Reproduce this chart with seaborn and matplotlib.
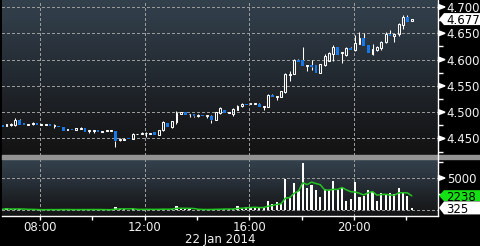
import numpy as np
import pandas as pd
import matplotlib
matplotlib.use("Agg")
import matplotlib.pyplot as plt
import seaborn as sns
from matplotlib.patches import Polygon, Rectangle
from matplotlib.lines import Line2D
from matplotlib.colors import LinearSegmentedColormap

# ---------------- data ----------------
start_hour = 6.55          # first 10-minute bar (hours of 22 Jan 2014)
bar_step_hours = 1 / 6

opens = [4.475,4.474,4.475,4.475,4.486,4.479,4.477,4.477,4.479,4.476,
         4.476,4.477,4.473,4.474,4.471,4.467,4.468,4.467,4.468,4.470,
         4.465,4.465,4.466,4.463,4.464,4.465,4.464,4.447,4.448,4.451,
         4.449,4.458,4.459,4.460,4.459,4.463,4.456,4.466,4.480,4.471,
         4.482,4.497,4.500,4.496,4.496,4.494,4.495,4.492,4.493,4.486,
         4.498,4.505,4.499,4.497,4.505,
         4.511,4.516,4.516,4.517,4.516,4.511,4.510,4.533,4.529,4.529,
         4.539,4.570,4.573,4.600,4.600,4.589,4.590,4.589,4.575,4.590,
         4.598,4.610,4.623,4.613,4.608,4.622,4.618,4.630,4.642,4.628,
         4.611,4.618,4.622,4.633,4.648,4.645,4.648,4.665,4.681,4.674]
highs = [4.476,4.478,4.480,4.488,4.487,4.479,4.4775,4.481,4.479,4.476,
         4.477,4.477,4.477,4.474,4.471,4.468,4.468,4.469,4.471,4.470,
         4.466,4.466,4.466,4.465,4.465,4.4655,4.464,4.451,4.451,4.451,
         4.460,4.459,4.463,4.463,4.460,4.463,4.466,4.483,4.480,4.484,
         4.502,4.501,4.501,4.497,4.496,4.496,4.495,4.495,4.494,4.500,
         4.509,4.505,4.500,4.508,4.514,
         4.517,4.516,4.517,4.517,4.517,4.512,4.534,4.534,4.531,4.541,
         4.574,4.578,4.602,4.601,4.624,4.590,4.599,4.590,4.592,4.610,
         4.614,4.627,4.624,4.614,4.623,4.623,4.647,4.652,4.650,4.628,
         4.630,4.625,4.636,4.652,4.656,4.648,4.670,4.685,4.685,4.678]
lows = [4.472,4.474,4.474,4.474,4.475,4.476,4.477,4.476,4.476,4.476,
        4.476,4.473,4.470,4.471,4.465,4.466,4.466,4.467,4.468,4.463,
        4.461,4.460,4.463,4.463,4.464,4.465,4.434,4.445,4.447,4.449,
        4.449,4.458,4.458,4.452,4.459,4.456,4.456,4.464,4.472,4.469,
        4.478,4.496,4.495,4.490,4.491,4.491,4.492,4.488,4.480,4.486,
        4.497,4.499,4.499,4.493,4.504,
        4.510,4.513,4.516,4.516,4.509,4.505,4.509,4.528,4.524,4.528,
        4.536,4.559,4.572,4.595,4.587,4.578,4.580,4.575,4.575,4.588,
        4.597,4.598,4.609,4.593,4.606,4.619,4.617,4.629,4.626,4.612,
        4.609,4.617,4.618,4.632,4.644,4.633,4.645,4.658,4.672,4.673]
closes = [4.472,4.477,4.478,4.486,4.476,4.476,4.4775,4.479,4.476,4.476,
          4.477,4.473,4.475,4.471,4.465,4.468,4.466,4.469,4.470,4.463,
          4.466,4.466,4.463,4.465,4.465,4.4655,4.446,4.449,4.449,4.449,
          4.459,4.459,4.460,4.461,4.460,4.456,4.466,4.482,4.472,4.483,
          4.499,4.500,4.495,4.497,4.492,4.494,4.492,4.494,4.485,4.500,
          4.508,4.499,4.500,4.507,4.512,
          4.516,4.513,4.517,4.517,4.509,4.512,4.532,4.528,4.531,4.540,
          4.572,4.572,4.600,4.595,4.588,4.590,4.586,4.575,4.591,4.607,
          4.613,4.623,4.609,4.614,4.622,4.619,4.632,4.642,4.626,4.612,
          4.620,4.624,4.634,4.648,4.644,4.648,4.667,4.681,4.672,4.677]
volumes = [120, 260, 90, 180, 150, 60, 40, 80, 50, 40,
           60, 90, 70, 50, 110, 60, 40, 50, 70, 120,
           80, 60, 50, 40, 60, 30, 520, 180, 90, 60,
           150, 80, 100, 160, 60, 90, 140, 200, 120, 180,
           650, 240, 130, 90, 60, 80, 70, 90, 140, 160,
           150, 180, 120, 140,
           625, 365, 415, 365, 365, 365, 415, 1460, 885, 1200,
           885, 4840, 1930, 4220, 2970, 7340, 3385, 3900, 3125, 2030,
           3280, 3180, 4530, 3070, 3490, 1460, 1720, 4320, 2030, 2240,
           3125, 2760, 1400, 2600, 2340, 2660, 2450, 3385, 2660, 2240, 325]
ma_window = 5

price_ticks = [4.450, 4.500, 4.550, 4.600, 4.650, 4.700]
price_minor = [4.425, 4.475, 4.525, 4.575, 4.625, 4.675]
vol_ticks = [5000]
vol_tick_labels = ["5000"]
vol_minor = [2500, 7500]
vol_grid = [0, 5000]
time_ticks = [8, 12, 16, 20]
time_labels = ["08:00", "12:00", "16:00", "20:00"]
time_minor = [10, 14, 18, 22]
date_label = "22 Jan 2014"
last_price, last_price_label = 4.677, "4.677"
ma_last, ma_label = 2238, "2238"
vol_last, vol_last_label = 325, "325"

# ---------------- style ----------------
sns.set_theme(style="dark")
plt.rcParams["font.family"] = ["DejaVu Sans"]
TXT = "#f2f2f2"
BLUE = "#1778e6"
GREEN = "#22c422"
GRID = "#9a9a9a"

W, H = 481, 246
def fx(px): return px / W
def fy(py): return 1 - py / H

fig = plt.figure(figsize=(W / 100, H / 100), dpi=100, facecolor="black")
rect_p = [fx(2), fy(155), fx(438) - fx(2), 155 / H]
rect_v = [fx(2), fy(216), fx(438) - fx(2), (216 - 159) / H]

def background(rect, colors):
    bg = fig.add_axes(rect, zorder=-5)
    cmap = LinearSegmentedColormap.from_list("g", colors)
    grad = np.linspace(0, 1, 256).reshape(-1, 1)
    bg.imshow(grad, cmap=cmap, aspect="auto", extent=(0, 1, 0, 1),
              vmin=0, vmax=1, interpolation="bilinear")
    bg.set_axis_off()

background(rect_p, ["#33414d", "#2b353f", "#222930", "#1a1c1f", "#131313"])
background(rect_v, ["#34424e", "#2a333c", "#1e2227", "#151515"])

axp = fig.add_axes(rect_p, zorder=1)
axv = fig.add_axes(rect_v, zorder=1)
for ax in (axp, axv):
    ax.set_facecolor("none")

XMIN, XMAX = 6.544, 23.22
PTOP, PBOT = 4.7133, 4.4186
VTOP, VBOT = 7969, -937

t = start_hour + np.arange(len(opens)) * bar_step_hours
o = np.array(opens); h = np.array(highs); l = np.array(lows); c = np.array(closes)

# grid
gkw = dict(color=GRID, lw=0.75, ls=(0, (2.0, 2.0)), zorder=1, antialiased=False)
for ax in (axp, axv):
    for x in time_ticks:
        ax.axvline(x, **gkw)
for v in price_ticks:
    axp.axhline(v, **gkw)
for v in vol_grid:
    axv.axhline(v, **gkw)

# candles
minh = 0.0017
lo_b = np.minimum(o, c); hi_b = np.maximum(o, c)
small = (hi_b - lo_b) < minh
mid = (hi_b + lo_b) / 2
lo_b = np.where(small, mid - minh / 2, lo_b)
hi_b = np.where(small, mid + minh / 2, hi_b)
axp.vlines(t, hi_b, np.maximum(h, hi_b), color="white", lw=0.75, zorder=2)
axp.vlines(t, np.minimum(l, lo_b), lo_b, color="white", lw=0.75, zorder=2)
down = c < o
up = ~down
axp.bar(t[down], (hi_b - lo_b)[down], bottom=lo_b[down], width=0.105,
        color=BLUE, linewidth=0, zorder=3)
axp.bar(t[up], (hi_b - lo_b)[up], bottom=lo_b[up], width=0.072,
        facecolor="none", edgecolor="white", linewidth=0.75, zorder=3)

# volume
df = pd.DataFrame({"t": t, "vol": volumes})
df["ma"] = df["vol"].rolling(ma_window, min_periods=1).mean()
sns.barplot(data=df, x="t", y="vol", native_scale=True, color="white",
            saturation=1, width=0.5, errorbar=None, ax=axv, linewidth=0, zorder=3)
sns.lineplot(data=df, x="t", y="ma", ax=axv, color=GREEN, lw=1.1, zorder=4)

for ax in (axp, axv):
    ax.set_xlim(XMIN, XMAX)
    ax.set_xlabel(""); ax.set_ylabel("")
    for s in ax.spines.values():
        s.set_visible(False)
    ax.yaxis.tick_right()
axp.set_ylim(PBOT, PTOP)
axv.set_ylim(VBOT, VTOP)

axp.set_xticks(time_ticks)
axp.tick_params(axis="x", length=0, labelbottom=False)
axp.set_yticks(price_ticks, labels=[f"{v:.3f}" for v in price_ticks])
axp.set_yticks(price_minor, minor=True)
axp.tick_params(axis="y", which="major", length=0, pad=6.3, labelsize=8.5,
                labelcolor=TXT, right=True, left=False)
axp.tick_params(axis="y", which="minor", length=3.5, width=1, color="white",
                direction="out", right=True, left=False)

axv.set_yticks(vol_ticks, labels=vol_tick_labels)
axv.set_yticks(vol_minor, minor=True)
axv.tick_params(axis="y", which="major", length=0, pad=6.3, labelsize=8.5,
                labelcolor=TXT, right=True, left=False)
axv.tick_params(axis="y", which="minor", length=3.5, width=1, color="white",
                direction="out", right=True, left=False)
axv.set_xticks(time_ticks, labels=time_labels)
axv.set_xticks(time_minor, minor=True)
axv.tick_params(axis="x", which="both", length=3.0, width=1, color="white",
                direction="out", pad=0.8, labelsize=8.5, labelcolor=TXT,
                bottom=True)
axv.spines["bottom"].set_visible(True)
axv.spines["bottom"].set_color("white")
axv.spines["bottom"].set_linewidth(1.0)

# frame decorations
fig.add_artist(Rectangle((fx(2), fy(159)), fx(481) - fx(2), 4 / H,
                         transform=fig.transFigure, color="#939393", zorder=5))
fig.add_artist(Line2D([fx(438), fx(438)], [fy(0), fy(216)], color="white",
                      lw=1.0, transform=fig.transFigure, zorder=6))
fig.text(fx(220), fy(239), date_label, ha="center", va="center",
         fontsize=8.5, color=TXT)

def ypix(ax, v):
    # pixel row (from top) of value v on axis ax, via matplotlib transform
    return H - ax.transData.transform((XMIN, v))[1] * 100 / fig.dpi

def triangle(ax, v):
    y = ypix(ax, v)
    fig.add_artist(Polygon([(fx(438.5), fy(y - 2.5)), (fx(438.5), fy(y + 2.5)),
                            (fx(445), fy(y))], closed=True,
                           transform=fig.transFigure, color="white", zorder=7))

for v in price_ticks:
    triangle(axp, v)
for v in vol_ticks:
    triangle(axv, v)

def tag(ax, v, text, face, hh):
    y = ypix(ax, v)
    pts = [(439, y), (444, y - hh / 2), (481, y - hh / 2), (481, y + hh / 2),
           (444, y + hh / 2)]
    fig.add_artist(Polygon([(fx(a), fy(b)) for a, b in pts], closed=True,
                           transform=fig.transFigure, facecolor=face,
                           edgecolor="none", zorder=8))
    fig.text(fx(446), fy(y), text, ha="left", va="center_baseline",
             fontsize=8.5, color="black", zorder=9)

tag(axp, last_price, last_price_label, "white", 12)
tag(axv, ma_last, ma_label, "#14e014", 11)
tag(axv, vol_last, vol_last_label, "white", 13)

fig.savefig("out.png", dpi=100, facecolor="black")
